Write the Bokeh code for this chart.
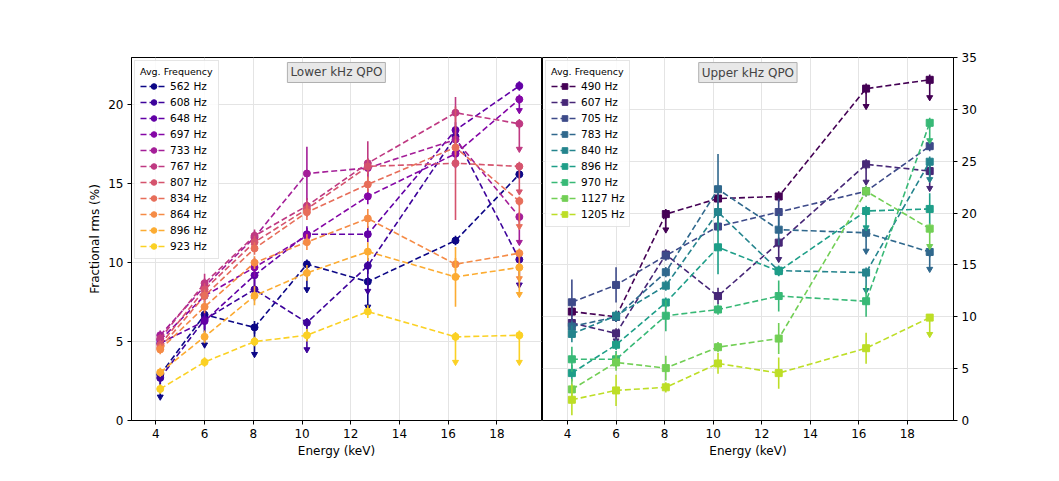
import numpy as np
from bokeh.plotting import figure
from bokeh.models import Range1d, Legend, LegendItem, Label, FixedTicker
from bokeh.layouts import row
from bokeh.embed import file_html
from bokeh.resources import INLINE
from bokeh.palettes import Plasma256, Viridis256

# ---------------- data ----------------
energy = [4.18, 6.0, 8.05, 10.2, 12.7, 16.3, 18.92]

lower_labels = ["562 Hz", "608 Hz", "648 Hz", "697 Hz", "733 Hz", "767 Hz",
                "807 Hz", "834 Hz", "864 Hz", "896 Hz", "923 Hz"]
lo_562 = [2.9, 6.7, 5.9, 9.9, 8.8, 11.4, 15.6]
lo_608 = [2.7, 6.4, 8.3, 6.2, 9.8, 18.0, 10.2]
lo_648 = [4.9, 6.3, 9.2, 11.8, 11.8, 18.4, 21.2]
lo_697 = [5.1, 7.9, 9.7, 11.7, 14.2, 16.9, 20.35]
lo_733 = [5.4, 8.5, 11.6, 15.65, 16.0, 17.8, 12.9]
lo_767 = [5.2, 8.7, 11.7, 13.6, 16.3, 19.5, 18.8]
lo_807 = [4.8, 8.3, 11.3, 13.4, 16.1, 16.3, 16.1]
lo_834 = [4.6, 7.9, 10.9, 13.2, 14.96, 17.3, 13.9]
lo_864 = [4.5, 7.2, 10.0, 11.3, 12.8, 9.9, 10.6]
lo_896 = [3.05, 5.3, 7.9, 9.35, 10.7, 9.1, 9.7]
lo_923 = [2.0, 3.7, 5.0, 5.4, 6.9, 5.3, 5.4]

# symmetric errors and upper-limit arrow lengths
lo_562_err = [0.3, 0.3, 0.4, 0.3, 0.3, 0.3, 0.3]
lo_562_ul = [1.4, 1.9, 1.7, 1.6, 1.6, 0, 0]
lo_608_err = [0.4, 0.8, 0.7, 0.3, 0.5, 0.5, 0.3]
lo_608_ul = [0, 0, 0, 1.7, 1.6, 0, 1.6]
lo_648_err = [0.3, 0.5, 0.8, 0.5, 0.5, 0.5, 0.3]
lo_648_ul = [0, 0, 0, 0, 0, 0, 0]
lo_697_err = [0.3, 0.5, 0.6, 0.5, 0.5, 0.5, 0.3]
lo_697_ul = [0, 0, 0, 0, 0, 0.7, 0.7]
lo_733_err = [0.3, 0.5, 0.4, 1.7, 0.6, 0.5, 0.3]
lo_733_ul = [0, 0, 0, 0, 0, 0, 1.6]
lo_767_err = [0.3, 0.6, 0.4, 0.5, 1.4, 1.0, 0.3]
lo_767_ul = [0, 0, 0, 0, 0, 0, 1.6]
lo_807_err = [0.3, 0.4, 0.4, 0.5, 0.5, 3.6, 0.3]
lo_807_ul = [0, 0, 0, 0, 0, 0, 1.6]
lo_834_err = [0.3, 0.4, 0.4, 0.5, 0.5, 0.5, 0.3]
lo_834_ul = [0, 0, 0, 0, 0, 0, 1.6]
lo_864_err = [0.3, 0.4, 0.4, 0.5, 0.6, 0.4, 0.3]
lo_864_ul = [0, 0, 0, 0, 0, 0, 1.6]
lo_896_err = [0.3, 0.4, 0.6, 0.5, 0.6, 1.9, 0.3]
lo_896_ul = [0, 0, 0, 0, 0, 0, 1.7]
lo_923_err = [0.3, 0.3, 0.3, 0.4, 0.4, 0.3, 0.3]
lo_923_ul = [0, 0, 0, 0, 0, 1.6, 1.7]

upper_labels = ["490 Hz", "607 Hz", "705 Hz", "783 Hz", "840 Hz", "896 Hz",
                "970 Hz", "1127 Hz", "1205 Hz"]
up_490 = [10.5, 10.0, 19.9, 21.4, 21.6, 32.0, 32.85]
up_607 = [9.4, 8.4, 16.0, 12.0, 17.15, 24.7, 24.05]
up_705 = [11.4, 13.07, 15.9, 18.7, 20.1, 22.1, 26.45]
up_783 = [9.06, 10.0, 14.3, 22.3, 18.4, 18.1, 16.25]
up_840 = [8.35, 10.1, 13.0, 20.1, 14.45, 14.26, 24.95]
up_896 = [4.57, 7.3, 11.37, 16.7, 14.4, 20.2, 20.4]
up_970 = [5.9, 5.9, 10.1, 10.7, 12.0, 11.5, 28.7]
up_1127 = [3.0, 5.6, 5.05, 7.07, 7.9, 22.1, 18.5]
up_1205 = [2.0, 2.9, 3.2, 5.5, 4.57, 6.97, 9.92]

up_490_err = [0.5, 0.5, 0.5, 0.5, 0.5, 0.5, 0.5]
up_490_ul = [0, 0, 1.5, 0, 0, 1.7, 1.7]
up_607_err = [0.5, 0.5, 0.5, 0.8, 0.5, 0.5, 0.5]
up_607_ul = [0, 0.7, 0, 0, 1.6, 1.7, 1.65]
up_705_err = [2.2, 1.7, 0.5, 0.5, 1.3, 0.5, 0.5]
up_705_ul = [0, 0, 0, 0, 0, 0, 0]
up_783_err = [0.5, 0.5, 0.5, 3.4, 1.5, 0.5, 0.5]
up_783_ul = [0, 0, 0, 0, 0, 1.75, 1.65]
up_840_err = [0.8, 0.5, 0.5, 0.8, 0.5, 0.5, 0.5]
up_840_ul = [0, 0, 0, 0, 0, 1.7, 1.7]
up_896_err = [0.8, 0.5, 0.5, 2.6, 0.5, 0.5, 1.5]
up_896_ul = [0, 0, 0, 0, 0, 1.6, 0]
up_970_err = [1.2, 0.8, 1.5, 0.5, 1.5, 1.5, 0.5]
up_970_ul = [0, 0, 0, 0, 0, 0, 1.7]
up_1127_err = [1.0, 0.8, 1.2, 0.5, 1.5, 0.5, 0.5]
up_1127_ul = [0, 0, 0, 0, 0, 0, 1.7]
up_1205_err = [1.5, 1.5, 0.5, 1.0, 1.5, 1.5, 0.3]
up_1205_ul = [0, 0, 0, 0, 0, 0, 1.6]

lower_series = [
    (lo_562, lo_562_err, lo_562_ul), (lo_608, lo_608_err, lo_608_ul),
    (lo_648, lo_648_err, lo_648_ul), (lo_697, lo_697_err, lo_697_ul),
    (lo_733, lo_733_err, lo_733_ul), (lo_767, lo_767_err, lo_767_ul),
    (lo_807, lo_807_err, lo_807_ul), (lo_834, lo_834_err, lo_834_ul),
    (lo_864, lo_864_err, lo_864_ul), (lo_896, lo_896_err, lo_896_ul),
    (lo_923, lo_923_err, lo_923_ul),
]
upper_series = [
    (up_490, up_490_err, up_490_ul), (up_607, up_607_err, up_607_ul),
    (up_705, up_705_err, up_705_ul), (up_783, up_783_err, up_783_ul),
    (up_840, up_840_err, up_840_ul), (up_896, up_896_err, up_896_ul),
    (up_970, up_970_err, up_970_ul), (up_1127, up_1127_err, up_1127_ul),
    (up_1205, up_1205_err, up_1205_ul),
]

lower_colors = [Plasma256[int(i)] for i in np.linspace(0, 232, len(lower_labels))]
upper_colors = [Viridis256[int(i)] for i in np.linspace(0, 230, len(upper_labels))]

FONT = "DejaVu Sans"


def style(p, yticks):
    p.xaxis.ticker = FixedTicker(ticks=[4, 6, 8, 10, 12, 14, 16, 18])
    p.yaxis.ticker = FixedTicker(ticks=yticks)
    for ax in p.axis:
        ax.major_tick_out = 4
        ax.major_tick_in = 0
        ax.minor_tick_line_color = None
        ax.axis_line_color = "black"
        ax.major_tick_line_color = "black"
        ax.major_label_text_font = FONT
        ax.major_label_text_font_size = "12px"
        ax.major_label_text_color = "black"
        ax.major_label_standoff = 4
        ax.axis_label_text_font = FONT
        ax.axis_label_text_font_size = "12px"
        ax.axis_label_text_font_style = "normal"
        ax.axis_label_text_color = "black"
        ax.axis_label_standoff = 3
    p.grid.grid_line_color = "#e4e4e4"
    p.grid.grid_line_width = 1
    p.outline_line_color = "black"
    p.outline_line_alpha = 1
    p.outline_line_width = 1
    p.background_fill_color = "white"
    p.border_fill_color = "white"


def draw(p, x, y, err, ul, color, marker, label):
    x = np.array(x, dtype=float)
    y = np.array(y, dtype=float)
    err = np.array(err, dtype=float)
    ul = np.array(ul, dtype=float)
    ln = p.line(x, y, line_color=color, line_width=1.6, line_dash="6 3")
    m = err > 0
    p.segment(x0=x[m], y0=(y - err)[m], x1=x[m], y1=(y + err)[m],
              line_color=color, line_width=1.6)
    u = ul > 0
    p.segment(x0=x[u], y0=y[u], x1=x[u], y1=(y - ul)[u],
              line_color=color, line_width=1.6)
    p.scatter(x[u], (y - ul)[u], marker="inverted_triangle", size=6,
              fill_color=color, line_color=color)
    sc = p.scatter(x, y, marker=marker, size=7, fill_color=color, line_color=color)
    return LegendItem(label=label, renderers=[ln, sc])


def make_legend(items):
    lg = Legend(items=items, location="top_left", title="Avg. Frequency",
                title_text_font=FONT, title_text_font_size="9.5px",
                title_text_font_style="normal", title_text_color="black",
                title_standoff=2,
                label_text_font=FONT, label_text_font_size="10.5px",
                label_text_color="black",
                glyph_width=27, glyph_height=14, label_height=14,
                spacing=2, padding=5, margin=3, label_standoff=3,
                border_line_color="#cccccc", border_line_width=1,
                background_fill_color="white", background_fill_alpha=0.85)
    return lg


# ---------------- left panel ----------------
p1 = figure(frame_width=410, frame_height=363,
            min_border_left=131, min_border_right=1,
            min_border_top=57, min_border_bottom=53,
            x_range=Range1d(3.0, 19.83), y_range=Range1d(0, 23),
            output_backend="svg", toolbar_location=None)
style(p1, [0, 5, 10, 15, 20])
p1.xaxis.axis_label = "Energy (keV)"
p1.yaxis.axis_label = "Fractional rms (%)"

items1 = []
for (vals, err, ul), c, lab in zip(lower_series, lower_colors, lower_labels):
    items1.append(draw(p1, energy, vals, err, ul, c, "circle", lab))
p1.add_layout(make_legend(items1))
p1.add_layout(Label(x=11.41, y=22.05, text="Lower kHz QPO", text_align="center",
                    text_baseline="middle", text_font=FONT, text_font_size="12px",
                    background_fill_color="#e8e8e8", border_line_color="#b0b0b0",
                    padding=3))

# ---------------- right panel ----------------
p2 = figure(frame_width=411, frame_height=363,
            min_border_left=0, min_border_right=98,
            min_border_top=57, min_border_bottom=53,
            x_range=Range1d(2.97, 19.9), y_range=Range1d(0, 35),
            y_axis_location="right",
            output_backend="svg", toolbar_location=None)
style(p2, [0, 5, 10, 15, 20, 25, 30, 35])
p2.xaxis.axis_label = "Energy (keV)"

items2 = []
for (vals, err, ul), c, lab in zip(upper_series, upper_colors, upper_labels):
    items2.append(draw(p2, energy, vals, err, ul, c, "square", lab))
p2.add_layout(make_legend(items2))
p2.add_layout(Label(x=11.43, y=33.55, text="Upper kHz QPO", text_align="center",
                    text_baseline="middle", text_font=FONT, text_font_size="12px",
                    background_fill_color="#e8e8e8", border_line_color="#b0b0b0",
                    padding=3))

layout = row(p1, p2, spacing=0)
open("out.html", "w").write(file_html(layout, INLINE))
